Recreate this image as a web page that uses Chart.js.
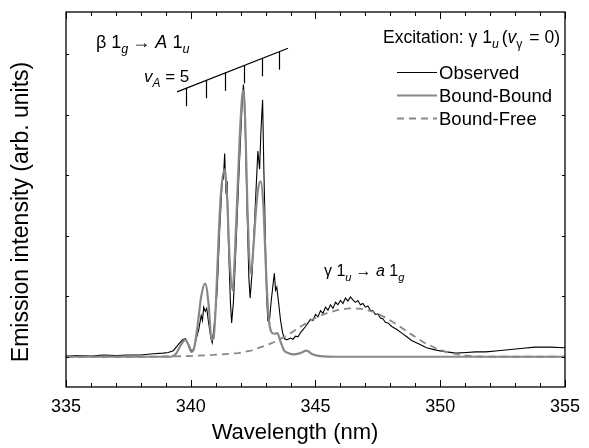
<!DOCTYPE html>
<html>
<head>
<meta charset="utf-8">
<script src="https://cdn.jsdelivr.net/npm/chart.js@4.4.1/dist/chart.umd.min.js"></script>
<style>
  html, body { margin: 0; padding: 0; background: #fff; }
  #wrap { width: 589px; height: 448px; }
</style>
</head>
<body>
<div id="wrap"><canvas id="c" width="589" height="448"></canvas></div>
<script>
// ---------------- DATA ----------------
const observedX = [335.0,335.5,336.0,336.5,337.0,337.5,338.0,338.5,338.9,339.1,339.3,339.5,339.67,339.79,339.92,340.02,340.12,340.22,340.32,340.42,340.47,340.52,340.58,340.64,340.72,340.81,340.86,340.96,341.06,341.16,341.26,341.31,341.36,341.41,341.46,341.51,341.59,341.64,341.71,341.79,341.86,341.93,341.99,342.05,342.11,342.16,342.21,342.26,342.33,342.38,342.46,342.53,342.61,342.69,342.76,342.81,342.88,342.93,342.99,343.04,343.09,343.16,343.22,343.3,343.35,343.4,343.45,343.52,343.6,343.68,343.75,343.85,344.0,344.1,344.2,344.3,344.4,344.5,344.6,344.7,344.8,344.9,345.0,345.1,345.2,345.3,345.4,345.5,345.6,345.7,345.8,345.9,346.0,346.1,346.2,346.3,346.4,346.5,346.6,346.7,346.8,346.9,347.0,347.1,347.2,347.3,347.4,347.5,347.6,347.7,347.8,347.9,348.06,348.26,348.46,348.66,348.85,349.15,349.45,349.84,350.24,350.64,351.03,351.43,351.83,352.32,352.82,353.32,353.81,354.4,355.0];
const observedY = [0.01,0.02,0.01,0.03,0.02,0.03,0.03,0.05,0.06,0.07,0.10,0.20,0.28,0.30,0.20,0.10,0.12,0.30,0.45,0.68,0.60,0.82,0.75,0.80,0.55,0.30,0.23,0.60,1.10,2.10,2.90,2.95,3.36,2.70,2.90,1.90,0.90,0.56,0.90,1.60,2.30,3.00,3.55,4.10,4.50,4.20,3.30,2.40,1.30,0.97,1.40,2.00,2.70,3.40,3.10,3.70,4.25,3.10,2.00,1.00,0.60,0.62,0.90,1.20,1.38,1.10,1.15,0.90,0.60,0.40,0.30,0.28,0.31,0.29,0.34,0.33,0.40,0.45,0.50,0.56,0.62,0.60,0.70,0.66,0.76,0.72,0.82,0.77,0.86,0.80,0.90,0.86,0.93,0.88,0.97,0.92,0.99,0.94,0.90,0.93,0.86,0.88,0.82,0.84,0.77,0.76,0.70,0.71,0.64,0.63,0.57,0.56,0.50,0.45,0.39,0.33,0.27,0.21,0.15,0.11,0.08,0.06,0.07,0.08,0.08,0.10,0.12,0.14,0.16,0.16,0.15];

const boundBoundX = [335.0,339.2,339.41,339.61,339.78,339.92,340.02,340.12,340.27,340.42,340.58,340.72,340.83,340.91,341.01,341.11,341.21,341.36,341.46,341.56,341.68,341.76,341.86,341.96,342.06,342.11,342.19,342.27,342.41,342.51,342.61,342.71,342.81,342.91,343.01,343.11,343.23,343.35,343.47,343.6,343.75,343.86,344.09,344.39,344.64,344.88,345.18,345.88,355.0];
const boundBoundY = [0.0,0.0,0.05,0.20,0.28,0.18,0.08,0.12,0.50,1.00,1.21,0.85,0.28,0.30,0.90,1.90,2.70,3.10,2.60,1.60,1.10,1.60,2.60,3.60,4.30,4.40,3.80,2.50,1.38,1.80,2.40,2.80,2.90,2.50,1.50,0.70,0.41,0.38,0.39,0.25,0.10,0.07,0.04,0.06,0.10,0.04,0.01,0.0,0.0];

const boundFreeX = [335.0,337.94,338.93,339.92,340.91,341.9,342.4,342.9,343.39,343.89,344.38,344.88,345.37,345.87,346.36,346.86,347.35,347.85,348.34,348.84,349.33,349.83,350.32,350.82,351.31,351.81,355.0];
const boundFreeY = [0.0,0.0,0.005,0.01,0.03,0.06,0.10,0.17,0.25,0.36,0.49,0.62,0.71,0.77,0.80,0.79,0.74,0.64,0.51,0.37,0.24,0.14,0.07,0.03,0.01,0.0,0.0];

// band origins of the beta 1g -> A 1u progression (nm)
const combBands = [339.80, 340.60, 341.38, 342.12, 342.85, 343.53];
const combLineX = [339.45, 343.90];
const combLineY = [4.38, 5.10];

const xTicks = [335, 340, 345, 350, 355];
const yTicks = [0, 1, 2, 3, 4, 5];

const seriesNames = ['Observed', 'Bound-Bound', 'Bound-Free'];
const xTitle = 'Wavelength (nm)';
const yTitle = 'Emission intensity (arb. units)';

// ---------------- CHART ----------------
const FONT = "'Liberation Sans', Arial, Helvetica, sans-serif";
const toPts = (xs, ys) => xs.map((x, i) => ({x: x, y: ys[i]}));

function drawRich(ctx, x, y, parts, size) {
  let cx = x;
  for (const p of parts) {
    const fs = p.sub ? size * 0.7 : size;
    ctx.font = (p.italic ? 'italic ' : '') + fs + 'px ' + FONT;
    const dy = p.sub ? size * 0.3 : 0;
    ctx.fillText(p.t, cx, y + dy);
    cx += ctx.measureText(p.t).width + (p.gap || 0);
  }
}

const decor = {
  id: 'decor',
  afterDatasetsDraw(chart) {
    const {ctx, chartArea: a, scales: {x, y}} = chart;
    ctx.save();
    ctx.strokeStyle = '#000';
    ctx.lineWidth = 1.3;
    ctx.strokeRect(a.left, a.top, a.right - a.left, a.bottom - a.top);
    // x ticks (inward), majors and minors, bottom and top
    ctx.lineWidth = 1;
    for (let v = 335; v <= 355; v += 1) {
      const px = Math.round(x.getPixelForValue(v)) + 0.5;
      const len = (v % 5 === 0) ? 7 : 4;
      ctx.beginPath();
      ctx.moveTo(px, a.bottom); ctx.lineTo(px, a.bottom - len);
      ctx.moveTo(px, a.top); ctx.lineTo(px, a.top + len);
      ctx.stroke();
    }
    for (const v of yTicks) {
      const py = Math.round(y.getPixelForValue(v)) + 0.5;
      ctx.beginPath();
      ctx.moveTo(a.left, py); ctx.lineTo(a.left + 3, py);
      ctx.moveTo(a.right, py); ctx.lineTo(a.right - 3, py);
      ctx.stroke();
    }
    // comb
    ctx.lineWidth = 1.2;
    const x0 = x.getPixelForValue(combLineX[0]), y0 = y.getPixelForValue(combLineY[0]);
    const x1 = x.getPixelForValue(combLineX[1]), y1 = y.getPixelForValue(combLineY[1]);
    ctx.beginPath(); ctx.moveTo(x0, y0); ctx.lineTo(x1, y1); ctx.stroke();
    for (const b of combBands) {
      const bx = Math.round(x.getPixelForValue(b)) + 0.5;
      const by = y0 + (y1 - y0) * (bx - x0) / (x1 - x0);
      ctx.beginPath(); ctx.moveTo(bx, by); ctx.lineTo(bx, by + 18); ctx.stroke();
    }
    // annotation texts
    ctx.fillStyle = '#000';
    ctx.textBaseline = 'alphabetic';
    ctx.textAlign = 'left';
    drawRich(ctx, 96, 48, [
      {t: 'β 1'}, {t: 'g', italic: true, sub: true, gap: 4}, {t: '→ '}, {t: 'A', italic: true}, {t: ' 1'}, {t: 'u', italic: true, sub: true}
    ], 18);
    drawRich(ctx, 144, 82, [
      {t: 'v', italic: true}, {t: 'A', italic: true, sub: true}, {t: ' = 5'}
    ], 17);
    drawRich(ctx, 324, 276, [
      {t: 'γ 1'}, {t: 'u', italic: true, sub: true, gap: 4}, {t: '→ '}, {t: 'a', italic: true}, {t: ' 1'}, {t: 'g', italic: true, sub: true}
    ], 16);
    drawRich(ctx, 383, 43, [
      {t: 'Excitation: γ 1'}, {t: 'u', italic: true, sub: true, gap: 3}, {t: '('}, {t: 'v', italic: true}, {t: 'γ', sub: true, gap: 2}, {t: ' = 0)'}
    ], 17.5);
    // legend
    const ly = [72, 95, 118];
    const styles = [
      {c: '#000', w: 1.2, d: []},
      {c: '#888', w: 2.2, d: []},
      {c: '#888', w: 1.8, d: [7, 5]}
    ];
    for (let i = 0; i < 3; i++) {
      ctx.strokeStyle = styles[i].c; ctx.lineWidth = styles[i].w; ctx.setLineDash(styles[i].d);
      ctx.beginPath(); ctx.moveTo(397, ly[i] + 0.5); ctx.lineTo(437, ly[i] + 0.5); ctx.stroke();
      ctx.setLineDash([]);
      ctx.font = '18.5px ' + FONT;
      ctx.fillText(seriesNames[i], 439, ly[i] + 6.5);
    }
    // axis titles
    ctx.textAlign = 'center';
    ctx.textBaseline = 'middle';
    ctx.font = '22px ' + FONT;
    ctx.fillText(xTitle, 295, 433);
    ctx.save();
    ctx.translate(22, 212);
    ctx.rotate(-Math.PI / 2);
    ctx.font = '23px ' + FONT;
    ctx.fillText(yTitle, 0, 0);
    ctx.restore();
    ctx.restore();
  }
};

new Chart(document.getElementById('c'), {
  type: 'line',
  data: {
    datasets: [
      {label: seriesNames[2], data: toPts(boundFreeX, boundFreeY), borderColor: '#888', borderWidth: 1.8, borderDash: [7, 5], pointRadius: 0, tension: 0},
      {label: seriesNames[1], data: toPts(boundBoundX, boundBoundY), borderColor: '#888', borderWidth: 2.2, pointRadius: 0, cubicInterpolationMode: 'monotone'},
      {label: seriesNames[0], data: toPts(observedX, observedY), borderColor: '#000', borderWidth: 1.1, pointRadius: 0, tension: 0}
    ]
  },
  options: {
    responsive: false,
    animation: false,
    events: [],
    layout: {padding: {left: 0, right: 17, top: 12, bottom: 0}},
    plugins: {legend: {display: false}, tooltip: {enabled: false}},
    scales: {
      x: {
        type: 'linear', min: 335, max: 355,
        afterBuildTicks: s => { s.ticks = xTicks.map(v => ({value: v})); },
        afterFit: s => { s.height = 61; },
        grid: {display: false, drawTicks: false},
        border: {display: false},
        ticks: {color: '#000', font: {family: FONT, size: 18}, padding: 9, maxRotation: 0},
        title: {display: false}
      },
      y: {
        min: -0.5, max: 5.7,
        afterFit: s => { s.width = 66; },
        grid: {display: false, drawTicks: false},
        border: {display: false},
        ticks: {display: false},
        title: {display: false}
      }
    }
  },
  plugins: [decor]
});
</script>
</body>
</html>
